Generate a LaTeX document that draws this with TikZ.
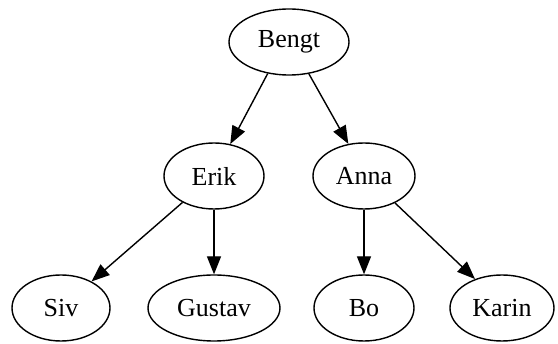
\documentclass[tikz,border=0pt]{standalone}
\usepackage{fontspec}
\setmainfont{Liberation Serif}
\usetikzlibrary{shapes.geometric,arrows.meta}
\begin{document}
\begin{tikzpicture}[x=1pt,y=-1pt,
  person/.style={draw, ellipse, line width=1.4pt, inner sep=0pt,
    minimum height=66pt, font=\fontsize{26}{30}\selectfont},
  edge/.style={line width=1.4pt, -{Triangle[length=18pt,width=14pt]}}]
\useasboundingbox (0,0) rectangle (558,344);
% family tree, one rank per generation
\node[person, minimum width=120pt] (bengt)  at (289,42)  {Bengt};
\node[person, minimum width=100pt] (erik)   at (214,176) {Erik};
\node[person, minimum width=102pt] (anna)   at (364,176) {Anna};
\node[person, minimum width=98pt]  (siv)    at (61,308)  {Siv};
\node[person, minimum width=132pt] (gustav) at (214,308) {Gustav};
\node[person, minimum width=100pt] (bo)     at (364,308) {Bo};
\node[person, minimum width=104pt] (karin)  at (502,308) {Karin};
% parent -> child links
\draw[edge] (bengt.236) -- (erik.63);
\draw[edge] (bengt.302) -- (anna.116);
\draw[edge] (erik.220) -- (siv.41);
\draw[edge] (erik.south) -- (gustav.north);
\draw[edge] (anna.south) -- (bo.north);
\draw[edge] (anna.319) -- (karin.133);
\end{tikzpicture}
\end{document}
